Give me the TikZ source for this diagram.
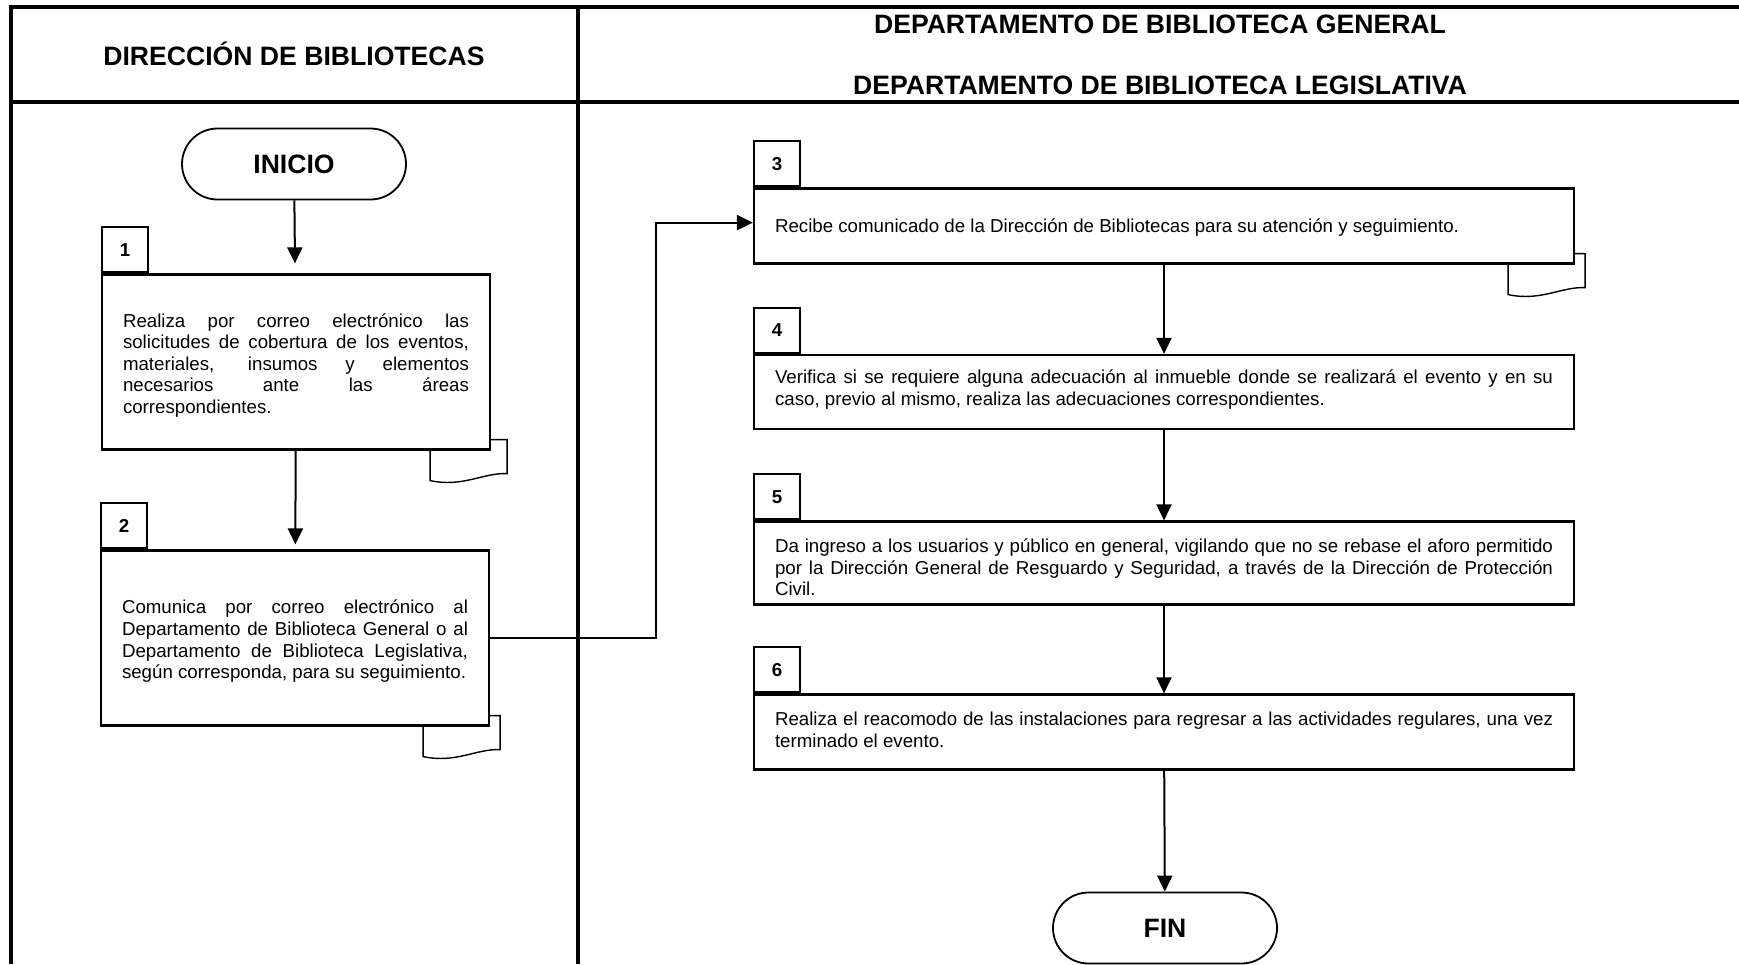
\documentclass[tikz,border=0pt]{standalone}
\usepackage{fontspec}
\setmainfont{Liberation Sans}
\usetikzlibrary{arrows.meta, shapes.misc, backgrounds}

\begin{document}
\begin{tikzpicture}[
    x=0.5pt, y=-0.5pt,
    font=\fontsize{9.35}{10.8}\selectfont,
    lanes/.style={line width=1.6pt},
    headtext/.style={font=\fontsize{13.3}{15}\selectfont\bfseries},
    termbox/.style={rounded rectangle, draw, line width=0.9pt, minimum width=112pt, minimum height=35.5pt, inner sep=0pt, font=\fontsize{13.3}{15}\selectfont\bfseries},
    taskbox/.style={draw, fill=white, line width=1.1pt, inner sep=0pt, align=justify},
    smallbox/.style={taskbox, minimum width=194pt, minimum height=87.5pt, text width=173pt},
    widebox/.style={taskbox, minimum width=410pt, text width=389pt},
    textdrop/.style={execute at end node={\endgraf\kern#1}},
    numtab/.style={draw, line width=1.1pt, minimum width=23pt, minimum height=22.5pt, inner sep=0pt, font=\fontsize{9.35}{10.8}\selectfont\bfseries},
    docline/.style={line width=0.7pt},
    flow/.style={line width=1pt, -{Triangle[length=8pt, width=7.5pt]}}
]
\useasboundingbox (0,0) rectangle (1739,964);

% Lanes and headers
\draw[lanes] (11,964) -- (11,7) -- (1739,7);
\draw[lanes] (11,102) -- (1739,102);
\draw[lanes] (578,7) -- (578,964);
\node[headtext] (hdir) at (294,54) {DIRECCIÓN DE BIBLIOTECAS};
\node[headtext] (hgen) at (1160,24) {DEPARTAMENTO DE BIBLIOTECA GENERAL};
\node[headtext] (hleg) at (1160,85) {DEPARTAMENTO DE BIBLIOTECA LEGISLATIVA};

% Left lane
\node[termbox] (ini) at (294,164) {INICIO};
\node[smallbox, textdrop=-3.3pt] (b1) at (296,362) {Realiza por correo electrónico las\linebreak
    solicitudes de cobertura de los eventos,\linebreak
    materiales, insumos y elementos\linebreak
    necesarios ante las áreas\linebreak
    correspondientes.};
\node[smallbox, textdrop=-3.3pt] (b2) at (295,638) {Comunica por correo electrónico al\linebreak
    Departamento de Biblioteca General o al\linebreak
    Departamento de Biblioteca Legislativa,\linebreak
    según corresponda, para su seguimiento.};

% Right lane
\node[widebox, minimum height=37.5pt, textdrop=-8pt] (b3) at (1164,226) {Recibe comunicado de la Dirección de Bibliotecas para su atención y seguimiento.};
\node[widebox, minimum height=37pt, textdrop=2.2pt] (b4) at (1164,392) {Verifica si se requiere alguna adecuación al inmueble donde se realizará el evento y en su\linebreak
    caso, previo al mismo, realiza las adecuaciones correspondientes.};
\node[widebox, minimum height=41.5pt, textdrop=-4.4pt] (b5) at (1164,563) {Da ingreso a los usuarios y público en general, vigilando que no se rebase el aforo permitido\linebreak
    por la Dirección General de Resguardo y Seguridad, a través de la Dirección de Protección\linebreak
    Civil.};
\node[widebox, minimum height=37.5pt, textdrop=2.2pt] (b6) at (1164,732) {Realiza el reacomodo de las instalaciones para regresar a las actividades regulares, una vez\linebreak
    terminado el evento.};
\node[termbox] (fin) at (1165,928) {FIN};

% Step numbers
\foreach \n in {1,...,6} {
    \node[numtab, anchor=south west] (t\n) at (b\n.north west) {\n};
}

% Document marks behind boxes
\begin{scope}[on background layer]
\foreach \n/\dx in {1/6, 2/0, 3/0} {
    \begin{scope}[shift={(b\n.south east)}, xshift=\dx*0.5pt]
    \draw[docline] (-67,-11) -- (10,-11) -- (10,23) .. controls (-14,22) and (-34,37) .. (-67,30) -- cycle;
    \end{scope}
}
\end{scope}

% Connectors
\draw[flow, shorten >=5pt] (ini) -- (b1);
\draw[flow, shorten >=2.5pt] (b1) -- (b2);
\draw[flow] (b2.east) -- ++(166,0) |- ([yshift=1.7pt]b3.west);
\foreach \a/\b in {b3/b4, b4/b5, b5/b6, b6/fin} {
    \draw[flow] (\a) -- (\b);
}

\end{tikzpicture}
\end{document}
